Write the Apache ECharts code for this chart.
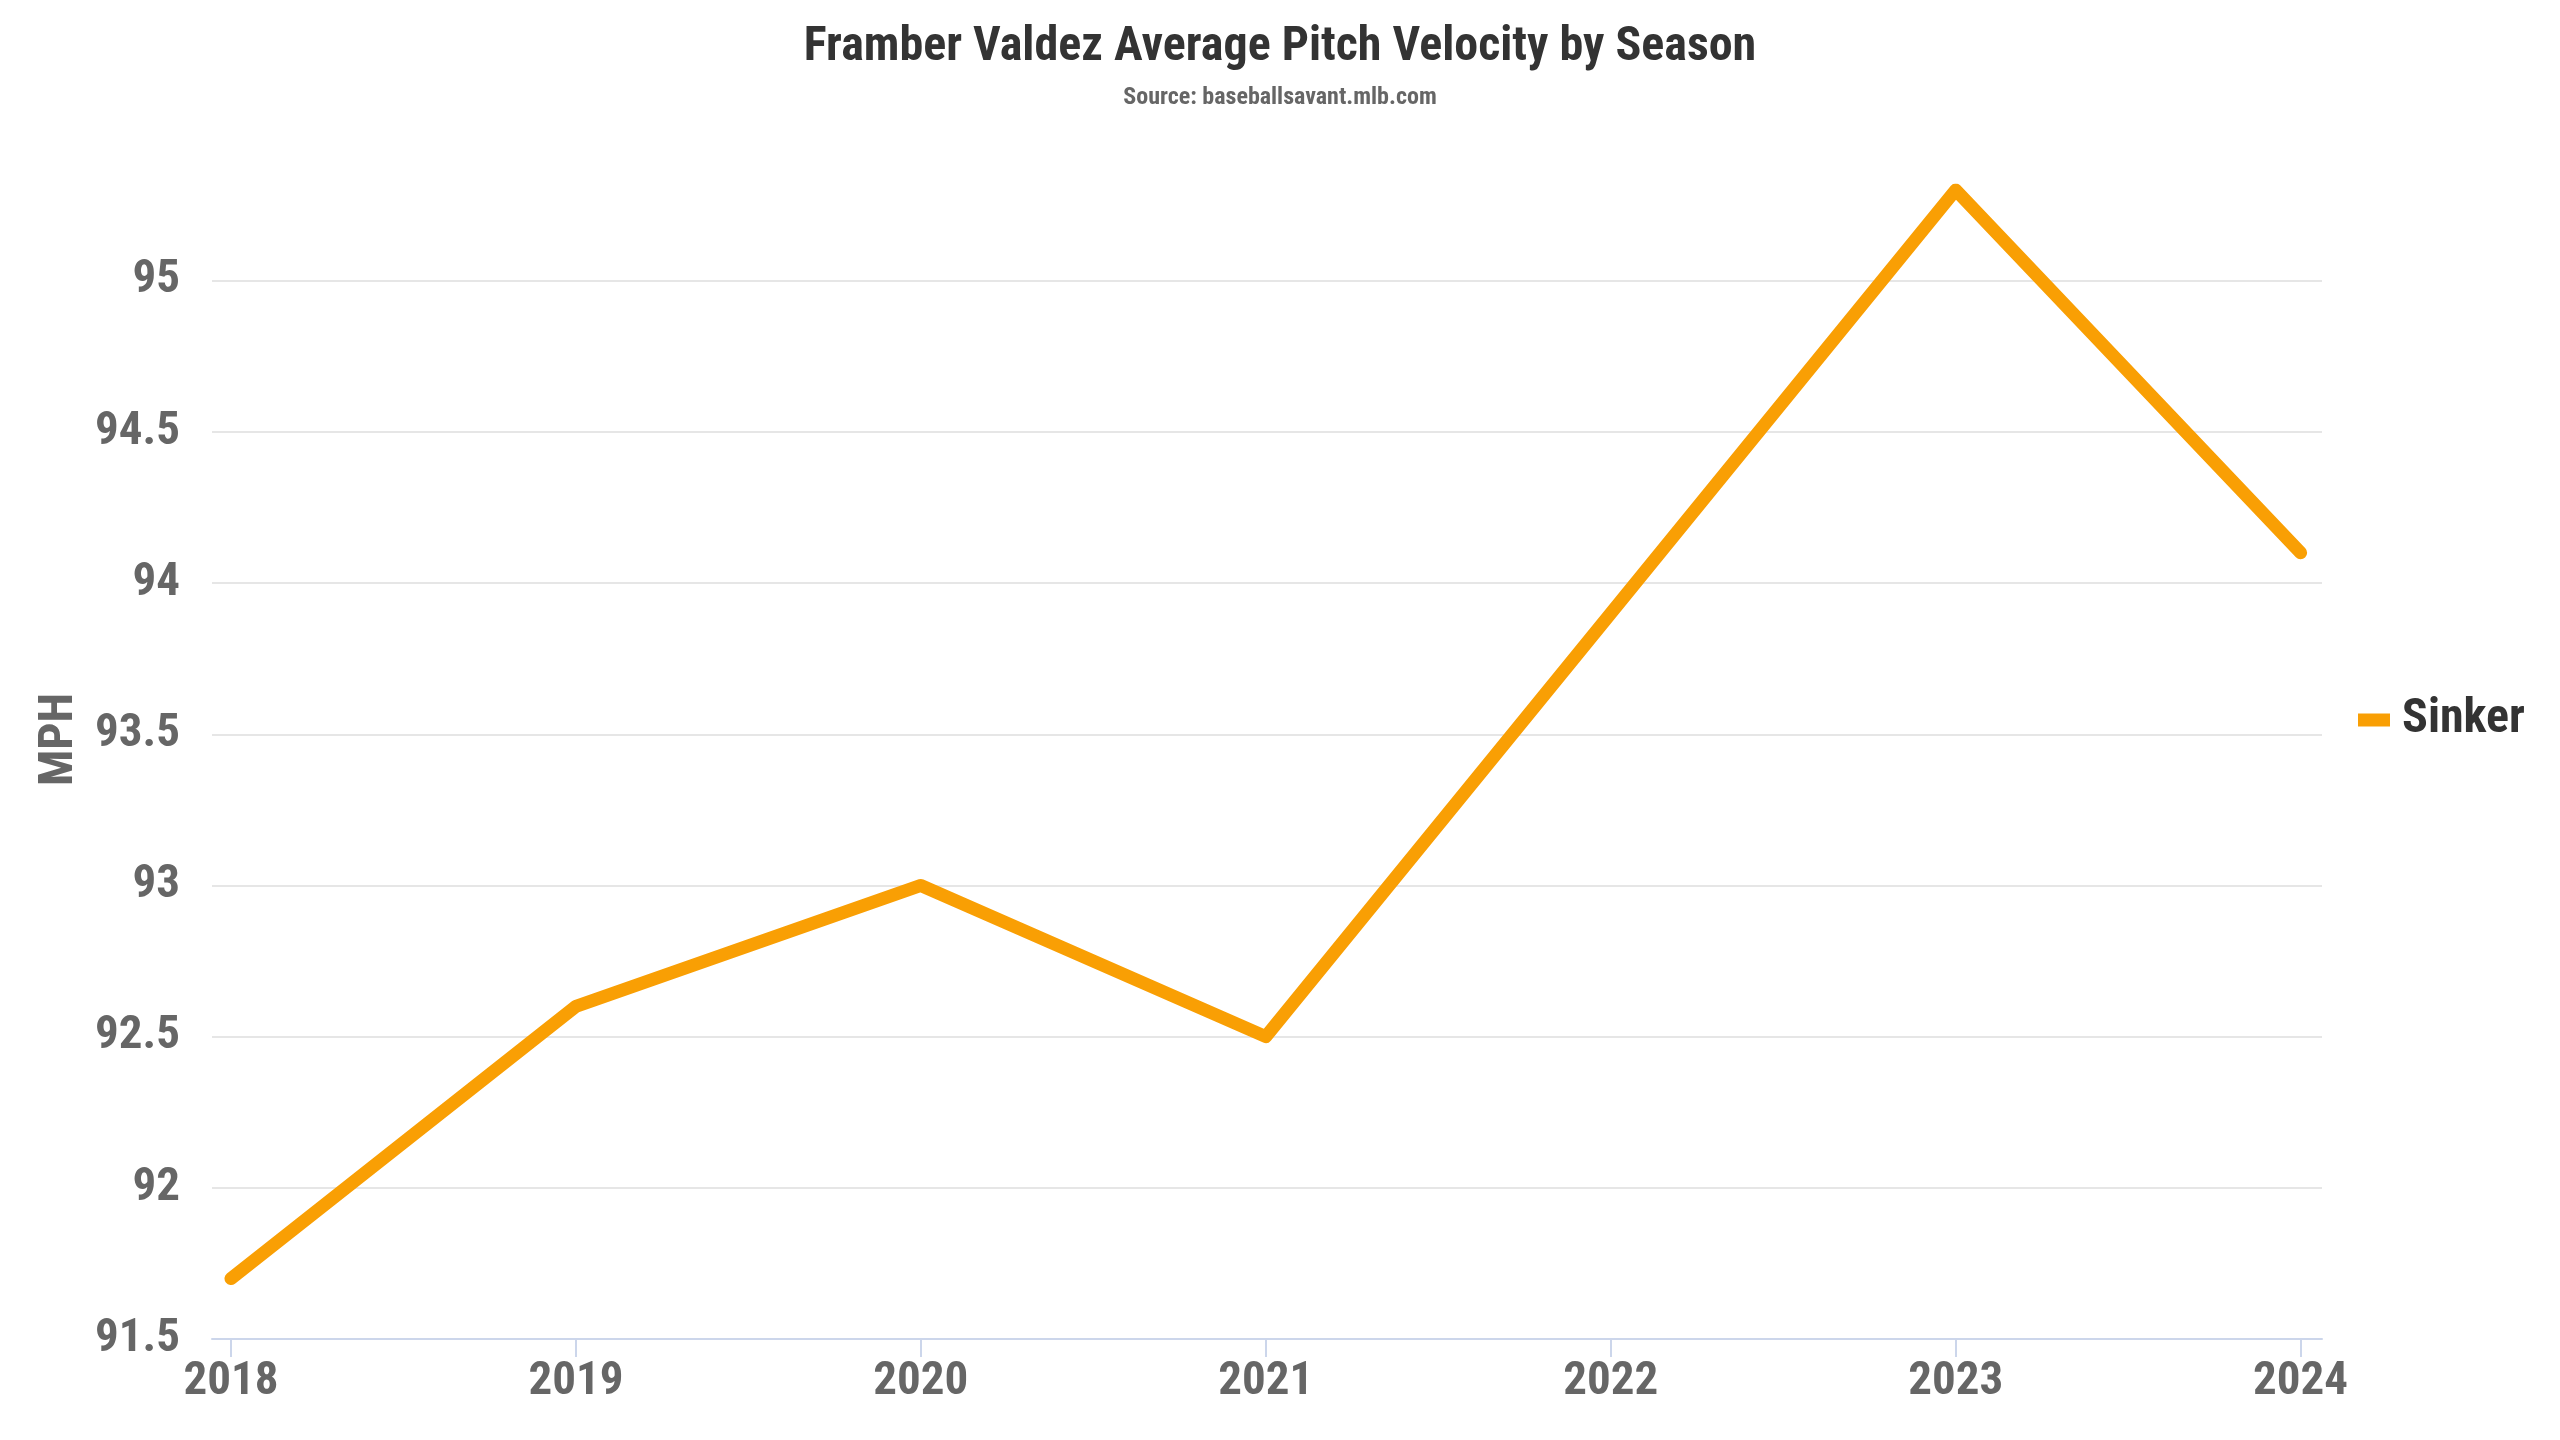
<!DOCTYPE html>
<html>
<head>
<meta charset="utf-8">
<script src="https://cdn.jsdelivr.net/npm/echarts@6/dist/echarts.min.js"></script>
<style>
html,body{margin:0;padding:0;background:#fff;}
#chart{width:2560px;height:1440px;}
</style>
</head>
<body>
<div id="chart"></div>
<script>
const seasons = [2018, 2019, 2020, 2021, 2022, 2023, 2024];
const sinkerVelocity = [91.7, 92.6, 93.0, 92.5, 93.9, 95.3, 94.1];
const yTicks = [91.5, 92, 92.5, 93, 93.5, 94, 94.5, 95];

const FONT = "'Roboto Condensed', 'Liberation Sans Narrow', 'DejaVu Sans Condensed', sans-serif";

const chart = echarts.init(document.getElementById('chart'), null, {renderer: 'canvas'});
chart.setOption({
  backgroundColor: '#ffffff',
  animation: false,
  title: {
    text: 'Framber Valdez Average Pitch Velocity by Season',
    subtext: 'Source: baseballsavant.mlb.com',
    left: 'center',
    top: 19,
    itemGap: 14,
    textStyle: {fontFamily: FONT, fontWeight: 'bold', fontSize: 48, color: '#333333'},
    subtextStyle: {fontFamily: FONT, fontWeight: 'bold', fontSize: 24, color: '#666666'}
  },
  legend: {
    orient: 'vertical',
    left: 2353,
    top: 'middle',
    padding: [25, 5, 5, 5],
    icon: 'rect',
    itemWidth: 32,
    itemHeight: 13,
    textStyle: {fontFamily: FONT, fontWeight: 'bold', fontSize: 48, color: '#333333', padding: [0, 0, 0, 7]},
    data: ['Sinker']
  },
  grid: {left: 212, right: 2560 - 2322, top: 190, bottom: 1440 - 1339, containLabel: false},
  xAxis: {
    type: 'value',
    min: 2017.945,
    max: 2024.062,
    axisLine: {show: true, lineStyle: {color: '#ccd6eb', width: 2}},
    axisTick: {show: true, customValues: seasons, length: 18, lineStyle: {color: '#ccd6eb', width: 2}},
    axisLabel: {
      customValues: seasons,
      formatter: v => String(v),
      fontFamily: FONT, fontWeight: 'bold', fontSize: 47, color: '#666666', margin: 20
    },
    splitLine: {show: false}
  },
  yAxis: {
    type: 'value',
    min: 91.5,
    max: 95.3,
    interval: 0.5,
    name: 'MPH',
    nameLocation: 'middle',
    nameGap: 127,
    nameRotate: 90,
    nameTextStyle: {fontFamily: FONT, fontWeight: 'bold', fontSize: 48, color: '#666666', padding: [0, 0, 0, 50]},
    axisLine: {show: false},
    axisTick: {show: false},
    axisLabel: {
      customValues: yTicks,
      formatter: v => String(v),
      fontFamily: FONT, fontWeight: 'bold', fontSize: 47, color: '#666666', margin: 32
    },
    splitLine: {show: true, showMaxLine: false, lineStyle: {color: '#e6e6e6', width: 2}}
  },
  series: [{
    name: 'Sinker',
    type: 'line',
    data: seasons.map((s, i) => [s, sinkerVelocity[i]]),
    showSymbol: false,
    symbol: 'none',
    lineStyle: {color: '#f99f04', width: 13, cap: 'round', join: 'round'},
    itemStyle: {color: '#f99f04'}
  }]
});
</script>
</body>
</html>
